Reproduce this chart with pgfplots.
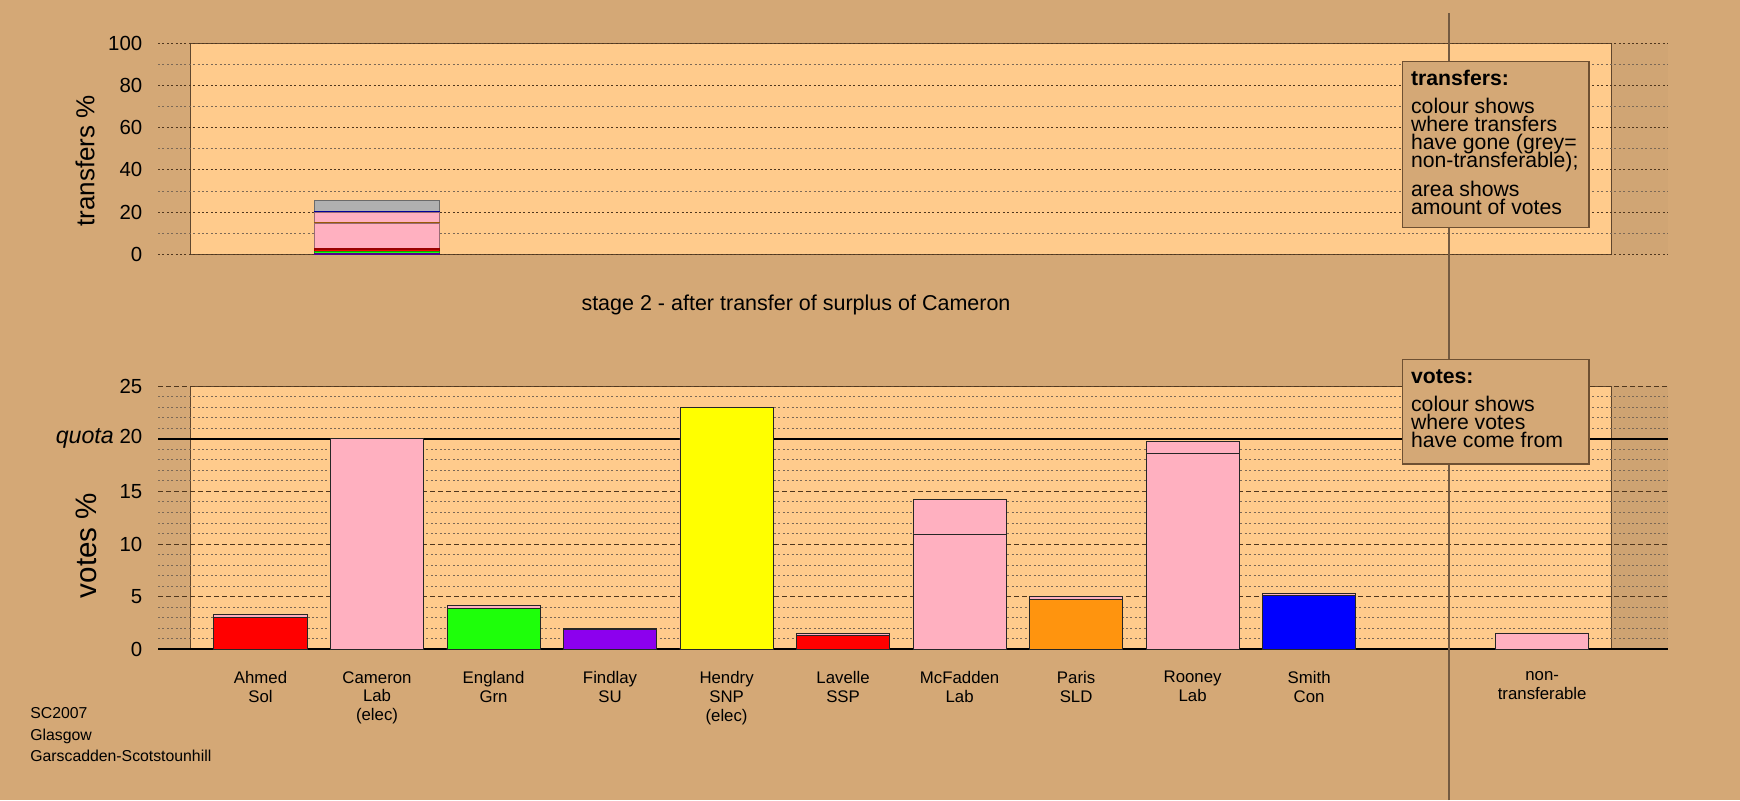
\documentclass[border=0pt]{standalone}
\usepackage{pgfplots}
\pgfplotsset{compat=1.18}
\usepackage{fontspec}
\setmainfont{Liberation Sans}
\definecolor{bgtan}{RGB}{212,168,118}
\definecolor{panel}{RGB}{255,203,140}
\definecolor{panelborder}{RGB}{95,70,45}
\definecolor{boxborder}{RGB}{110,80,50}
\definecolor{gridc}{RGB}{80,55,30}
\definecolor{vline}{RGB}{115,90,65}
\definecolor{cred}{RGB}{255,0,0}
\definecolor{cpink}{RGB}{255,176,192}
\definecolor{cgreen}{RGB}{30,255,10}
\definecolor{cpurple}{RGB}{140,0,238}
\definecolor{cyellow}{RGB}{255,255,0}
\definecolor{corange}{RGB}{255,148,14}
\definecolor{cblue}{RGB}{0,0,255}
\definecolor{cgrey}{RGB}{176,176,176}
\pagecolor{bgtan}
\pgfplotsset{
  mybar/.style={ybar, bar width=0.8, bar shift=0pt, fill=#1, draw=black!85, line width=0.45pt},
  tbar/.style={fill=#1, draw=#1!60!black, line width=0.35pt},
}
\begin{document}
\begin{tikzpicture}[x=1pt,y=1pt]
\useasboundingbox (0,0) rectangle (870,400);
\fill[bgtan] (0,0) rectangle (870,400);
% panels (plot backgrounds)
\fill[bgtan!98!black] (805.96,272.85) rectangle (834,378.35);
\fill[panel, draw=panelborder, line width=0.5pt] (95.31,272.85) rectangle (805.96,378.35);
\fill[bgtan!97!black] (805.96,75.35) rectangle (834,207.0);
\fill[panel, draw=panelborder, line width=0.5pt] (95.31,75.35) rectangle (805.96,207.0);
% ---------------- top axis: transfers ----------------
\begin{axis}[
  scale only axis, width=755pt, height=105.5pt,
  at={(79pt,272.85pt)}, anchor=south west,
  xmin=0.12, xmax=13.08, ymin=0, ymax=100,
  axis line style={draw=none}, major tick length=0pt, minor tick length=0pt,
  xtick=\empty,
  ytick={0,20,40,60,80,100}, yticklabels={0,20,40,60,80,100},
  minor ytick={10,30,50,70,90},
  ymajorgrids, yminorgrids,
  major grid style={gridc, line width=0.45pt, dash pattern=on 1pt off 1.2pt},
  minor grid style={gridc!75, line width=0.4pt, dash pattern=on 1pt off 1.2pt},
  yticklabel style={font=\fontsize{10.2}{12}\selectfont, anchor=east, inner sep=0pt, xshift=-7.7pt},
  ybar stacked, bar width=1.07,
  clip=false,
]
\addplot[tbar=cpurple] coordinates {(2,0.4)};   % Findlay
\addplot[tbar=cgreen] coordinates {(2,1.0)};    % England
\addplot[tbar=cred] coordinates {(2,0.75)};     % Ahmed
\addplot[tbar=cred] coordinates {(2,0.65)};     % Lavelle
\addplot[tbar=cpink] coordinates {(2,12.1)};    % McFadden
\addplot[tbar=corange] coordinates {(2,0.4)};   % Paris
\addplot[tbar=cpink] coordinates {(2,4.7)};     % Rooney
\addplot[tbar=cblue] coordinates {(2,0.4)};     % Smith
\addplot[tbar=cgrey] coordinates {(2,5.3)};     % non-transferable
\end{axis}
% ---------------- bottom axis: votes ----------------
\begin{axis}[
  scale only axis, width=755pt, height=131.65pt,
  at={(79pt,75.35pt)}, anchor=south west,
  xmin=0.12, xmax=13.08, ymin=0, ymax=25,
  axis line style={draw=none}, major tick length=0pt, minor tick length=0pt,
  xtick={1,2,3,4,5,6,7,8,9,10,12},
  xticklabels={{Ahmed\\Sol},{Cameron\\Lab\\(elec)},{England\\Grn},{Findlay\\SU},{Hendry\\SNP\\(elec)},{Lavelle\\SSP},{McFadden\\Lab},{Paris\\SLD},{Rooney\\Lab},{Smith\\Con},{non-\\transferable}},
  xticklabel style={align=center, font=\fontsize{8.4}{9.4}\selectfont, anchor=north, inner sep=0pt, yshift=-10.8pt},
  ytick={0,5,10,15,20,25}, yticklabels={0,5,10,15,{{\fontsize{11.6}{14}\selectfont\textit{quota}} 20},25},
  minor y tick num=4,
  ymajorgrids, yminorgrids,
  major grid style={gridc, line width=0.45pt, dash pattern=on 2.5pt off 1.5pt},
  minor grid style={gridc!75, line width=0.4pt, dash pattern=on 1pt off 1.2pt},
  yticklabel style={font=\fontsize{10.2}{12}\selectfont, anchor=east, inner sep=0pt, xshift=-7.7pt},
  extra y ticks={0,20}, extra y tick labels={},
  extra y tick style={grid=major, major grid style={black, solid, line width=0.9pt}},
  clip=false,
]
% totals after transfer (top segments: votes from Cameron, Lab pink)
\addplot[mybar=cpink] coordinates {(1,3.32) (2,20.0) (3,4.18) (4,2.0) (5,22.98) (6,1.52) (7,14.27) (8,5.03) (9,19.75) (10,5.32) (12,1.55)};
% own votes before transfer
\addplot[mybar=cred] coordinates {(1,3.04) (6,1.33)};
\addplot[mybar=cpink] coordinates {(2,20.0) (7,10.95) (9,18.64)};
\addplot[mybar=cgreen] coordinates {(3,3.89)};
\addplot[mybar=cpurple] coordinates {(4,1.9)};
\addplot[mybar=cyellow] coordinates {(5,22.93)};
\addplot[mybar=corange] coordinates {(8,4.75)};
\addplot[mybar=cblue] coordinates {(10,5.16)};
\end{axis}
% ---------------- decorations ----------------
\draw[vline, line width=0.6pt] (724.5,0) -- (724.5,393.5);
\node[rotate=90, font=\fontsize{13}{15}\selectfont] at (42.5,319.5) {transfers \%};
\node[rotate=90, font=\fontsize{14.8}{17}\selectfont] at (43,127.25) {votes \%};
\node[font=\fontsize{10.75}{12}\selectfont] at (398,247.5) {stage 2 - after transfer of surplus of Cameron};
% transfers box
\draw[fill=bgtan, draw=boxborder, line width=0.6pt] (701.35,286.15) rectangle (794.5,369.15);
\begin{scope}[every node/.style={anchor=base west, inner sep=0pt, font=\fontsize{10.6}{9}\selectfont}]
\node[font=\fontsize{10.6}{9}\selectfont\bfseries] at (705.35,357) {transfers:};
\node at (705.35,343.3) {colour shows};
\node at (705.35,334.2) {where transfers};
\node at (705.35,325.3) {have gone (grey=};
\node at (705.35,316.2) {non-transferable);};
\node at (705.35,302) {area shows};
\node at (705.35,292.8) {amount of votes};
\end{scope}
% votes box
\draw[fill=bgtan, draw=boxborder, line width=0.6pt] (701.35,168) rectangle (794.5,220.35);
\begin{scope}[every node/.style={anchor=base west, inner sep=0pt, font=\fontsize{10.6}{9}\selectfont}]
\node[font=\fontsize{10.6}{9}\selectfont\bfseries] at (705.35,208.3) {votes:};
\node at (705.35,194.5) {colour shows};
\node at (705.35,185.5) {where votes};
\node at (705.35,176.2) {have come from};
\end{scope}
% bottom-left caption
\begin{scope}[every node/.style={anchor=base west, inner sep=0pt, font=\fontsize{7.9}{9}\selectfont}]
\node at (15,40.6) {SC2007};
\node at (15,30) {Glasgow};
\node at (15,19.4) {Garscadden-Scotstounhill};
\end{scope}
\end{tikzpicture}
\end{document}
